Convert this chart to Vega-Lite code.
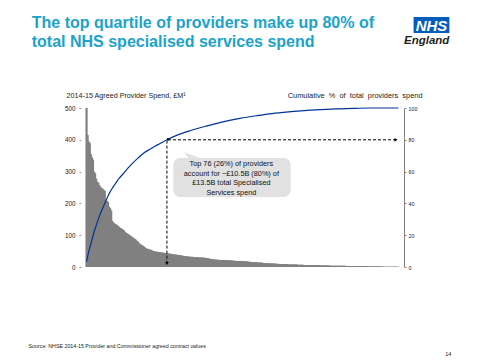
{
"$schema": "https://vega.github.io/schema/vega-lite/v6.json",
"width": 323, "height": 159,
"autosize": {"type": "none"},
"padding": {"left": 81, "top": 108, "right": 76, "bottom": 93},
"background": "white",
"config": {"view": {"stroke": null}, "font": "Liberation Sans", "axis": {"grid": false}},
"datasets": {
"bars": [
{"p":1,"s":500},{"p":2,"s":415},{"p":3,"s":395},{"p":4,"s":390},{"p":5,"s":355},{"p":6,"s":345},{"p":7,"s":338},{"p":8,"s":300},{"p":9,"s":295},{"p":10,"s":278},
{"p":11,"s":268},{"p":12,"s":265},{"p":13,"s":257},{"p":14,"s":252},{"p":15,"s":248},{"p":16,"s":246},{"p":17,"s":242},{"p":18,"s":240},{"p":19,"s":210},{"p":20,"s":208},
{"p":21,"s":205},{"p":22,"s":190},{"p":23,"s":185},{"p":24,"s":178},{"p":25,"s":145},{"p":26,"s":140},{"p":27,"s":137},{"p":28,"s":135},{"p":29,"s":133},{"p":30,"s":130},
{"p":31,"s":127},{"p":32,"s":124},{"p":33,"s":122},{"p":34,"s":120},{"p":35,"s":117},{"p":36,"s":115},{"p":37,"s":110},{"p":38,"s":107},{"p":39,"s":105},{"p":40,"s":103},
{"p":41,"s":101},{"p":42,"s":98},{"p":43,"s":96},{"p":44,"s":93},{"p":45,"s":91},{"p":46,"s":88},{"p":47,"s":86},{"p":48,"s":82},{"p":49,"s":80},{"p":50,"s":75},
{"p":51,"s":72},{"p":52,"s":70},{"p":53,"s":68},{"p":54,"s":66},{"p":55,"s":63},{"p":56,"s":60},{"p":57,"s":58},{"p":58,"s":57},{"p":59,"s":56},{"p":60,"s":55},
{"p":61,"s":54},{"p":62,"s":52},{"p":63,"s":51},{"p":64,"s":50},{"p":65,"s":49},{"p":66,"s":48},{"p":67,"s":48},{"p":68,"s":47},{"p":69,"s":47},{"p":70,"s":46},
{"p":71,"s":46},{"p":72,"s":45},{"p":73,"s":45},{"p":74,"s":44},{"p":75,"s":44},{"p":76,"s":43},{"p":77,"s":43},{"p":78,"s":42},{"p":79,"s":42},{"p":80,"s":41},
{"p":81,"s":41},{"p":82,"s":40},{"p":83,"s":40},{"p":84,"s":39},{"p":85,"s":39},{"p":86,"s":38},{"p":87,"s":38},{"p":88,"s":37},{"p":89,"s":37},{"p":90,"s":36},
{"p":91,"s":35},{"p":92,"s":35},{"p":93,"s":34},{"p":94,"s":34},{"p":95,"s":33},{"p":96,"s":33},{"p":97,"s":33},{"p":98,"s":32},{"p":99,"s":32},{"p":100,"s":32},
{"p":101,"s":31},{"p":102,"s":31},{"p":103,"s":31},{"p":104,"s":31},{"p":105,"s":30},{"p":106,"s":30},{"p":107,"s":30},{"p":108,"s":30},{"p":109,"s":30},{"p":110,"s":29},
{"p":111,"s":29},{"p":112,"s":29},{"p":113,"s":28},{"p":114,"s":27},{"p":115,"s":27},{"p":116,"s":26},{"p":117,"s":25},{"p":118,"s":25},{"p":119,"s":24},{"p":120,"s":24},
{"p":121,"s":23},{"p":122,"s":23},{"p":123,"s":23},{"p":124,"s":23},{"p":125,"s":22},{"p":126,"s":22},{"p":127,"s":22},{"p":128,"s":22},{"p":129,"s":22},{"p":130,"s":22},
{"p":131,"s":22},{"p":132,"s":22},{"p":133,"s":21},{"p":134,"s":21},{"p":135,"s":21},{"p":136,"s":21},{"p":137,"s":20},{"p":138,"s":20},{"p":139,"s":20},{"p":140,"s":19},
{"p":141,"s":19},{"p":142,"s":19},{"p":143,"s":19},{"p":144,"s":19},{"p":145,"s":19},{"p":146,"s":19},{"p":147,"s":19},{"p":148,"s":18},{"p":149,"s":18},{"p":150,"s":18},
{"p":151,"s":18},{"p":152,"s":17},{"p":153,"s":16},{"p":154,"s":16},{"p":155,"s":16},{"p":156,"s":15},{"p":157,"s":15},{"p":158,"s":15},{"p":159,"s":15},{"p":160,"s":15},
{"p":161,"s":14},{"p":162,"s":14},{"p":163,"s":14},{"p":164,"s":14},{"p":165,"s":13},{"p":166,"s":13},{"p":167,"s":12},{"p":168,"s":12},{"p":169,"s":12},{"p":170,"s":12},
{"p":171,"s":12},{"p":172,"s":11},{"p":173,"s":11},{"p":174,"s":11},{"p":175,"s":11},{"p":176,"s":11},{"p":177,"s":11},{"p":178,"s":10},{"p":179,"s":10},{"p":180,"s":10},
{"p":181,"s":9},{"p":182,"s":9},{"p":183,"s":9},{"p":184,"s":9},{"p":185,"s":9},{"p":186,"s":9},{"p":187,"s":9},{"p":188,"s":9},{"p":189,"s":8},{"p":190,"s":8},
{"p":191,"s":8},{"p":192,"s":8},{"p":193,"s":8},{"p":194,"s":8},{"p":195,"s":8},{"p":196,"s":8},{"p":197,"s":8},{"p":198,"s":7},{"p":199,"s":7},{"p":200,"s":7},
{"p":201,"s":7},{"p":202,"s":7},{"p":203,"s":7},{"p":204,"s":6},{"p":205,"s":6},{"p":206,"s":6},{"p":207,"s":6},{"p":208,"s":6},{"p":209,"s":6},{"p":210,"s":6},
{"p":211,"s":6},{"p":212,"s":6},{"p":213,"s":6},{"p":214,"s":6},{"p":215,"s":6},{"p":216,"s":6},{"p":217,"s":6},{"p":218,"s":6},{"p":219,"s":5},{"p":220,"s":5},
{"p":221,"s":5},{"p":222,"s":5},{"p":223,"s":5},{"p":224,"s":5},{"p":225,"s":5},{"p":226,"s":5},{"p":227,"s":5},{"p":228,"s":4},{"p":229,"s":4},{"p":230,"s":4},
{"p":231,"s":4},{"p":232,"s":4},{"p":233,"s":4},{"p":234,"s":4},{"p":235,"s":4},{"p":236,"s":4},{"p":237,"s":4},{"p":238,"s":4},{"p":239,"s":4},{"p":240,"s":4},
{"p":241,"s":4},{"p":242,"s":4},{"p":243,"s":3},{"p":244,"s":3},{"p":245,"s":3},{"p":246,"s":3},{"p":247,"s":3},{"p":248,"s":3},{"p":249,"s":3},{"p":250,"s":3},
{"p":251,"s":3},{"p":252,"s":3},{"p":253,"s":3},{"p":254,"s":3},{"p":255,"s":3},{"p":256,"s":3},{"p":257,"s":3},{"p":258,"s":3},{"p":259,"s":3},{"p":260,"s":3},
{"p":261,"s":3},{"p":262,"s":3},{"p":263,"s":2},{"p":264,"s":2},{"p":265,"s":2},{"p":266,"s":2},{"p":267,"s":2},{"p":268,"s":2},{"p":269,"s":2},{"p":270,"s":2},
{"p":271,"s":2},{"p":272,"s":2},{"p":273,"s":2},{"p":274,"s":2},{"p":275,"s":2},{"p":276,"s":2},{"p":277,"s":2},{"p":278,"s":1},{"p":279,"s":1},{"p":280,"s":1},
{"p":281,"s":1},{"p":282,"s":1},{"p":283,"s":1},{"p":284,"s":1},{"p":285,"s":1},{"p":286,"s":1},{"p":287,"s":1},{"p":288,"s":1},{"p":289,"s":1},{"p":290,"s":1},
{"p":291,"s":1},{"p":292,"s":1}
],
"cum": [
{"p":1,"c":3.3},{"p":2,"c":6.5},{"p":4,"c":12},{"p":6,"c":17},{"p":8,"c":22},{"p":10,"c":26},{"p":13,"c":32},{"p":16,"c":37},{"p":19,"c":41.5},{"p":22,"c":46},
{"p":25,"c":49.5},{"p":28,"c":52.5},{"p":31,"c":55.5},{"p":35,"c":58.5},{"p":40,"c":62.5},{"p":45,"c":66},{"p":49,"c":68.5},{"p":55,"c":72},{"p":60,"c":74},{"p":65,"c":76},
{"p":70,"c":77.8},{"p":76,"c":80},{"p":85,"c":82.8},{"p":99,"c":86},{"p":112,"c":88.5},{"p":126,"c":91},{"p":144,"c":93.5},{"p":160,"c":95.2},{"p":174,"c":96.5},{"p":190,"c":97.6},
{"p":204,"c":98.4},{"p":220,"c":99},{"p":234,"c":99.4},{"p":250,"c":99.8},{"p":265,"c":100},{"p":292,"c":100}
]
},
"layer": [
{
"data": {"name": "bars"},
"mark": {"type": "bar", "width": 2.2, "color": "#808080"},
"encoding": {
"x": {"field": "p", "type": "quantitative", "scale": {"domain": [0.5, 292.5], "nice": false, "zero": false},
"axis": {"title": "Providers", "titleX": 324, "titleY": 15, "titleAlign": "right", "titleAnchor": null, "titleBaseline": "alphabetic", "titleFontSize": 7.5, "titleFontWeight": "normal", "titleColor": "#222", "labels": false, "grid": false, "tickCount": 50, "tickSize": 2, "tickColor": "#909090", "domainColor": "#808080"}},
"y": {"field": "s", "type": "quantitative", "scale": {"domain": [0, 500], "nice": false},
"axis": {"title": "2014-15 Agreed Provider Spend, £M¹", "titleAngle": 0, "titleX": -15, "titleY": -11, "titleAlign": "left", "titleAnchor": null, "titleBaseline": "alphabetic", "titleFontSize": 7.2, "titleFontWeight": "normal", "titleColor": "#222", "grid": false, "values": [0, 100, 200, 300, 400, 500], "labelFontSize": 6.3, "labelColor": "#222", "tickSize": 2, "tickColor": "#999", "domain": false, "labelPadding": 4}}
}
},
{
"data": {"name": "cum"},
"mark": {"type": "line", "color": "#003399", "strokeWidth": 1.2, "interpolate": "monotone"},
"encoding": {
"x": {"field": "p", "type": "quantitative", "scale": {"domain": [0.5, 292.5], "nice": false, "zero": false}, "axis": null},
"y": {"field": "c", "type": "quantitative", "scale": {"domain": [0, 100], "nice": false},
"axis": {"orient": "right", "title": "Cumulative\u00a0 %\u00a0 of\u00a0 total\u00a0 providers\u00a0 spend", "titleAngle": 0, "titleX": 18, "titleY": -11, "titleAlign": "right", "titleAnchor": null, "titleBaseline": "alphabetic", "titleFontSize": 7.4, "titleFontWeight": "normal", "titleColor": "#222", "grid": false, "values": [0, 20, 40, 60, 80, 100], "labelFontSize": 5.3, "labelColor": "#222", "domainColor": "#808080", "tickColor": "#808080", "tickSize": 2, "labelPadding": 2}}
}
},
{
"data": {"values": [{}]},
"mark": {"type": "rule", "color": "black", "strokeDash": [3, 2], "strokeWidth": 1},
"encoding": {
"x": {"datum": 76, "type": "quantitative", "scale": {"domain": [0.5, 292.5], "nice": false, "zero": false}, "axis": null},
"y": {"datum": 79.5, "type": "quantitative", "scale": {"domain": [0, 100], "nice": false}, "axis": null},
"y2": {"datum": 2.5}
}
},
{
"data": {"values": [{}]},
"mark": {"type": "rule", "color": "black", "strokeDash": [3, 2], "strokeWidth": 1},
"encoding": {
"x": {"datum": 77, "type": "quantitative", "scale": {"domain": [0.5, 292.5], "nice": false, "zero": false}, "axis": null},
"x2": {"datum": 289},
"y": {"datum": 80, "type": "quantitative", "scale": {"domain": [0, 100], "nice": false}, "axis": null}
}
},
{
"data": {"values": [{}]},
"mark": {"type": "point", "shape": "triangle-down", "filled": true, "color": "black", "size": 14, "opacity": 1},
"encoding": {
"x": {"datum": 76, "type": "quantitative", "scale": {"domain": [0.5, 292.5], "nice": false, "zero": false}, "axis": null},
"y": {"datum": 2.2, "type": "quantitative", "scale": {"domain": [0, 100], "nice": false}, "axis": null}
}
},
{
"data": {"values": [{}]},
"mark": {"type": "point", "shape": "triangle-right", "filled": true, "color": "black", "size": 14, "opacity": 1},
"encoding": {
"x": {"datum": 289.8, "type": "quantitative", "scale": {"domain": [0.5, 292.5], "nice": false, "zero": false}, "axis": null},
"y": {"datum": 80, "type": "quantitative", "scale": {"domain": [0, 100], "nice": false}, "axis": null}
}
},
{
"data": {"values": [{}]},
"mark": {"type": "point", "shape": "triangle-up", "angle": -45, "filled": true, "color": "black", "size": 12, "opacity": 1},
"encoding": {
"x": {"datum": 76.8, "type": "quantitative", "scale": {"domain": [0.5, 292.5], "nice": false, "zero": false}, "axis": null},
"y": {"datum": 80.5, "type": "quantitative", "scale": {"domain": [0, 100], "nice": false}, "axis": null}
}
},
{
"data": {"values": [{}]},
"mark": {"type": "rect", "color": "#e1e1e1", "cornerRadius": 7},
"encoding": {
"x": {"datum": 81.9, "type": "quantitative", "scale": {"domain": [0.5, 292.5], "nice": false, "zero": false}, "axis": null},
"x2": {"datum": 191.3},
"y": {"datum": 68.6, "type": "quantitative", "scale": {"domain": [0, 100], "nice": false}, "axis": null},
"y2": {"datum": 44.0}
}
},
{
"data": {"values": [{}]},
"mark": {"type": "point", "shape": "M -0.73 -0.27 L 1 0.37 L -0.3 0.37 Z", "filled": true, "color": "#e1e1e1", "size": 400, "opacity": 1, "strokeWidth": 0},
"encoding": {
"x": {"datum": 99.1, "type": "quantitative", "scale": {"domain": [0.5, 292.5], "nice": false, "zero": false}, "axis": null},
"y": {"datum": 70.4, "type": "quantitative", "scale": {"domain": [0, 100], "nice": false}, "axis": null}
}
},
{
"data": {"values": [{}]},
"mark": {"type": "text", "text": ["Top 76 (26%) of providers", "account for ~£10.5B (80%) of", "£13.5B total Specialised", "Services spend"], "align": "center", "baseline": "alphabetic", "fontSize": 7.3, "lineHeight": 9.5, "color": "#111"},
"encoding": {
"x": {"datum": 136.1, "type": "quantitative", "scale": {"domain": [0.5, 292.5], "nice": false, "zero": false}, "axis": null},
"y": {"datum": 63.5, "type": "quantitative", "scale": {"domain": [0, 100], "nice": false}, "axis": null}
}
},
{
"data": {"values": [{}]},
"mark": {"type": "text", "text": ["The top quartile of providers make up 80% of", "total NHS specialised services spend"], "align": "left", "baseline": "alphabetic", "fontSize": 16, "fontWeight": "bold", "lineHeight": 19, "color": "#1ba3c9"},
"encoding": {
"x": {"datum": -50.1, "type": "quantitative", "scale": {"domain": [0.5, 292.5], "nice": false, "zero": false}, "axis": null},
"y": {"datum": 150.3, "type": "quantitative", "scale": {"domain": [0, 100], "nice": false}, "axis": null}
}
},
{
"data": {"values": [{}]},
"mark": {"type": "rect", "color": "#005eb8"},
"encoding": {
"x": {"datum": 306.1, "type": "quantitative", "scale": {"domain": [0.5, 292.5], "nice": false, "zero": false}, "axis": null},
"x2": {"datum": 339.5},
"y": {"datum": 157.2, "type": "quantitative", "scale": {"domain": [0, 100], "nice": false}, "axis": null},
"y2": {"datum": 147.2}
}
},
{
"data": {"values": [{}]},
"mark": {"type": "text", "text": "NHS", "align": "center", "baseline": "alphabetic", "fontSize": 15, "fontWeight": "bold", "fontStyle": "italic", "color": "white"},
"encoding": {
"x": {"datum": 322.8, "type": "quantitative", "scale": {"domain": [0.5, 292.5], "nice": false, "zero": false}, "axis": null},
"y": {"datum": 148.7, "type": "quantitative", "scale": {"domain": [0, 100], "nice": false}, "axis": null}
}
},
{
"data": {"values": [{}]},
"mark": {"type": "text", "text": "England", "align": "right", "baseline": "alphabetic", "fontSize": 11.5, "fontWeight": "bold", "fontStyle": "italic", "color": "#231f20"},
"encoding": {
"x": {"datum": 339.5, "type": "quantitative", "scale": {"domain": [0.5, 292.5], "nice": false, "zero": false}, "axis": null},
"y": {"datum": 140.4, "type": "quantitative", "scale": {"domain": [0, 100], "nice": false}, "axis": null}
}
},
{
"data": {"values": [{}]},
"mark": {"type": "text", "text": "Source: NHSE 2014-15 Provider and Commissioner agreed contract values", "align": "left", "baseline": "alphabetic", "fontSize": 5.3, "color": "#222"},
"encoding": {
"x": {"datum": -53.1, "type": "quantitative", "scale": {"domain": [0.5, 292.5], "nice": false, "zero": false}, "axis": null},
"y": {"datum": -50.8, "type": "quantitative", "scale": {"domain": [0, 100], "nice": false}, "axis": null}
}
},
{
"data": {"values": [{}]},
"mark": {"type": "text", "text": "14", "align": "left", "baseline": "alphabetic", "fontSize": 5.5, "color": "#222"},
"encoding": {
"x": {"datum": 335.7, "type": "quantitative", "scale": {"domain": [0.5, 292.5], "nice": false, "zero": false}, "axis": null},
"y": {"datum": -55.8, "type": "quantitative", "scale": {"domain": [0, 100], "nice": false}, "axis": null}
}
}
],
"resolve": {"scale": {"y": "independent"}}
}
